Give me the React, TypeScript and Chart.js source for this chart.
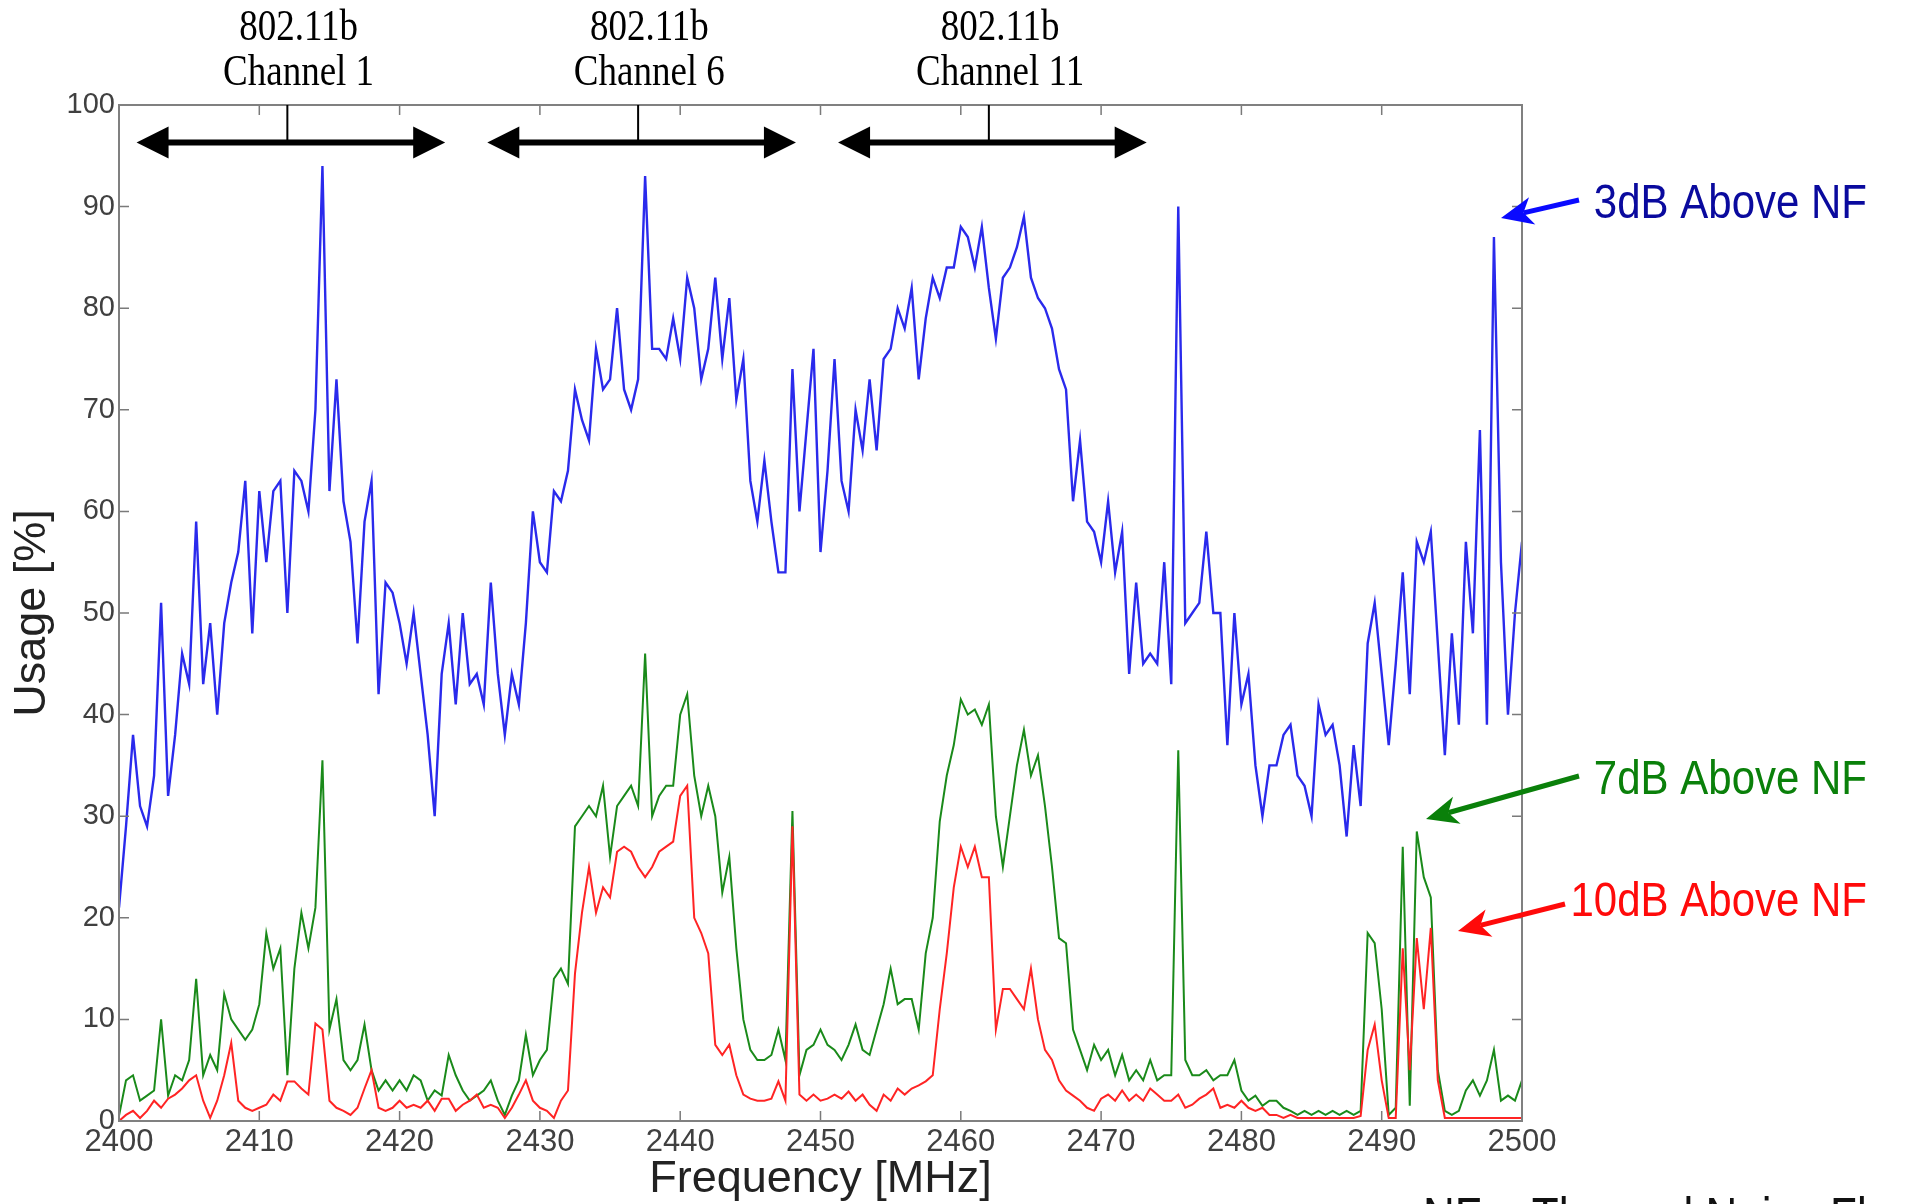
import React, { useEffect, useRef } from 'react';
import { Chart, registerables } from 'chart.js';

Chart.register(...registerables);

// Frequency grid: 2400 MHz .. 2500 MHz, 0.5 MHz per sample
const FREQ_START = 2400;
const FREQ_STEP = 0.5;

// Usage [%] with threshold 3 dB above noise floor (blue)
const USAGE_3DB = [
  21, 29, 38, 31, 29, 34, 51, 32, 38, 46,
  43, 59, 43, 49, 40, 49, 53, 56, 63, 48,
  62, 55, 62, 63, 50, 64, 63, 60, 70, 94,
  62, 73, 61, 57, 47, 59, 63, 42, 53, 52,
  49, 45, 50, 44, 38, 30, 44, 49, 41, 50,
  43, 44, 41, 53, 44, 38, 44, 41, 49, 60,
  55, 54, 62, 61, 64, 72, 69, 67, 76, 72,
  73, 80, 72, 70, 73, 93, 76, 76, 75, 79,
  75, 83, 80, 73, 76, 83, 75, 81, 71, 75,
  63, 59, 65, 59, 54, 54, 74, 60, 68, 76,
  56, 64, 75, 63, 60, 70, 66, 73, 66, 75,
  76, 80, 78, 82, 73, 79, 83, 81, 84, 84,
  88, 87, 84, 88, 82, 77, 83, 84, 86, 89,
  83, 81, 80, 78, 74, 72, 61, 67, 59, 58,
  55, 61, 54, 58, 44, 53, 45, 46, 45, 55,
  43, 90, 49, 50, 51, 58, 50, 50, 37, 50,
  41, 44, 35, 30, 35, 35, 38, 39, 34, 33,
  30, 41, 38, 39, 35, 28, 37, 31, 47, 51,
  44, 37, 45, 54, 42, 57, 55, 58, 47, 36,
  48, 39, 57, 48, 68, 39, 87, 55, 40, 50,
  57,
];

// Usage [%] with threshold 7 dB above noise floor (green)
const USAGE_7DB = [
  0.5, 4, 4.5, 2, 2.5, 3, 10, 2.5, 4.5, 4,
  6, 14, 4.5, 6.5, 5, 12.5, 10, 9, 8, 9,
  11.5, 18.5, 15, 17, 4.5, 15, 20.5, 17, 21, 35.5,
  9, 12, 6, 5, 6, 9.5, 5, 3, 4, 3,
  4, 3, 4.5, 4, 2, 3, 2.5, 6.5, 4.5, 3,
  2, 2.5, 3, 4, 2, 0.6, 2.5, 4, 8.5, 4.5,
  6, 7, 14, 15, 13.5, 29, 30, 31, 30, 33,
  26, 31, 32, 33, 31, 46, 30, 32, 33, 33,
  40, 42, 34, 30, 33, 30, 22.5, 26, 17, 10,
  7, 6, 6, 6.5, 9, 6, 30.5, 4.5, 7, 7.5,
  9, 7.5, 7, 6, 7.5, 9.5, 7, 6.5, 9, 11.5,
  15, 11.5, 12, 12, 9, 16.5, 20, 29.5, 34, 37,
  41.5, 40, 40.5, 39, 41, 30, 25, 30, 35, 38.5,
  34, 36, 31, 25, 18, 17.5, 9, 7, 5, 7.5,
  6, 7, 4.5, 6.5, 4, 5, 4, 6, 4, 4.5,
  4.5, 36.5, 6, 4.5, 4.5, 5, 4, 4.5, 4.5, 6,
  3, 2, 2.5, 1.5, 2, 2, 1.3, 1, 0.6, 1,
  0.6, 1, 0.6, 1, 0.6, 1, 0.6, 1, 18.5, 17.5,
  11, 0.6, 1.3, 27, 1.5, 28.5, 24, 22, 5, 1,
  0.6, 1, 3, 4, 2.5, 4, 7, 2, 2.5, 2,
  4,
];

// Usage [%] with threshold 10 dB above noise floor (red)
const USAGE_10DB = [
  0, 0.6, 1, 0.3, 1, 2, 1.3, 2.2, 2.6, 3.2,
  4, 4.5, 2, 0.3, 2, 4.5, 7.7, 2, 1.3, 1,
  1.3, 1.6, 2.6, 2, 3.9, 3.9, 3.2, 2.6, 9.6, 9,
  2, 1.3, 1, 0.6, 1.3, 3.2, 5, 1.3, 1, 1.3,
  2, 1.3, 1.6, 1.3, 2, 1, 2.2, 2.2, 1, 1.6,
  2, 2.6, 1.3, 1.6, 1.3, 0.3, 1.3, 2.6, 4, 2,
  1.3, 1, 0.3, 2, 3, 14.5, 20.5, 25, 20.5, 23,
  22, 26.5, 27, 26.5, 25, 24, 25, 26.5, 27, 27.5,
  32, 33, 20, 18.5, 16.5, 7.5, 6.5, 7.5, 4.5, 2.6,
  2.2, 2, 2, 2.2, 3.9, 2, 29, 2.6, 2, 2.6,
  2, 2.2, 2.6, 2.2, 2.9, 2, 2.6, 1.6, 1, 2.6,
  2, 3.2, 2.6, 3.2, 3.5, 3.9, 4.5, 11, 16.5, 23,
  27, 25, 27, 24, 24, 9, 13, 13, 12, 11,
  15, 10, 7, 6, 4, 3, 2.5, 2, 1.3, 1,
  2.2, 2.6, 2, 3, 2, 2.6, 2, 3.2, 2.6, 2,
  2, 2.6, 1.3, 1.6, 2.2, 2.6, 3.2, 1.3, 1.6, 1.3,
  2, 1.3, 1, 1.3, 0.6, 0.6, 0.3, 0.6, 0.3, 0.3,
  0.3, 0.3, 0.3, 0.3, 0.3, 0.3, 0.3, 0.5, 7, 9.5,
  4, 0.3, 0.3, 17, 5, 18, 11, 19, 4, 0.3,
  0.3, 0.3, 0.3, 0.3, 0.3, 0.3, 0.3, 0.3, 0.3, 0.3,
  0.3,
];

// 802.11b channel annotations
const CHANNEL_CENTERS = [2412, 2437, 2462];
const CHANNEL_NAMES = ['Channel 1', 'Channel 6', 'Channel 11'];
const CHANNEL_STANDARD = '802.11b';
const CHANNEL_HALF_WIDTH = 11;
const CHANNEL_ARROW_LEVEL = 96.3;

const SERIES_LABELS = ['3dB Above NF', '7dB Above NF', '10dB Above NF'];
const FOOTNOTE = 'NF = Thermal Noise Floor';

const SANS = '"Liberation Sans", Arial, Helvetica, sans-serif';
const SERIF = '"Liberation Serif", "Times New Roman", serif';

function stretchedText(ctx: CanvasRenderingContext2D, text: string, x: number, y: number, sy: number) {
  ctx.save();
  ctx.translate(x, y);
  ctx.scale(1, sy);
  ctx.fillText(text, 0, 0);
  ctx.restore();
}

function barbArrow(
  ctx: CanvasRenderingContext2D,
  x1: number, y1: number, x2: number, y2: number,
  color: string, w: number, headLen: number, headHalf: number,
) {
  const dx = x2 - x1, dy = y2 - y1;
  const len = Math.hypot(dx, dy);
  const ux = dx / len, uy = dy / len;
  const nx = -uy, ny = ux;
  const bx = x2 - ux * headLen, by = y2 - uy * headLen;
  const cx = x2 - ux * headLen * 0.72, cy = y2 - uy * headLen * 0.72;
  ctx.save();
  ctx.strokeStyle = color;
  ctx.fillStyle = color;
  ctx.lineWidth = w;
  ctx.lineCap = 'butt';
  ctx.beginPath();
  ctx.moveTo(x1, y1);
  ctx.lineTo(cx, cy);
  ctx.stroke();
  ctx.beginPath();
  ctx.moveTo(x2, y2);
  ctx.lineTo(bx + nx * headHalf, by + ny * headHalf);
  ctx.lineTo(cx, cy);
  ctx.lineTo(bx - nx * headHalf, by - ny * headHalf);
  ctx.closePath();
  ctx.fill();
  ctx.restore();
}

const annotations = {
  id: 'annotations',
  afterDatasetsDraw(chart: any) {
    const { ctx, chartArea: a, scales } = chart;
    const xs = scales.x;
    const ys = scales.y;
    ctx.save();

    // inward tick marks on all four sides
    ctx.strokeStyle = '#7a7a7a';
    ctx.lineWidth = 1.5;
    const tl = 10;
    ctx.beginPath();
    xs.ticks.forEach((t: any) => {
      const px = xs.getPixelForValue(t.value);
      ctx.moveTo(px, a.bottom);
      ctx.lineTo(px, a.bottom - tl);
      ctx.moveTo(px, a.top);
      ctx.lineTo(px, a.top + tl);
    });
    ys.ticks.forEach((t: any) => {
      const py = ys.getPixelForValue(t.value);
      ctx.moveTo(a.left, py);
      ctx.lineTo(a.left + tl, py);
      ctx.moveTo(a.right, py);
      ctx.lineTo(a.right - tl, py);
    });
    ctx.stroke();

    // axes box
    ctx.lineWidth = 2;
    ctx.strokeStyle = '#808080';
    ctx.strokeRect(a.left, a.top, a.right - a.left, a.bottom - a.top);

    // channel span arrows
    const yA = ys.getPixelForValue(CHANNEL_ARROW_LEVEL);
    const headLen = 32;
    const headHalf = 16;
    CHANNEL_CENTERS.forEach((c, i) => {
      const xl = xs.getPixelForValue(c + 0.25 - CHANNEL_HALF_WIDTH);
      const xr = xs.getPixelForValue(c + 0.25 + CHANNEL_HALF_WIDTH);
      const xc = xs.getPixelForValue(c);
      ctx.strokeStyle = '#000';
      ctx.fillStyle = '#000';
      ctx.lineWidth = 2;
      ctx.beginPath();
      ctx.moveTo(xc, a.top);
      ctx.lineTo(xc, yA);
      ctx.stroke();
      ctx.lineWidth = 6;
      ctx.beginPath();
      ctx.moveTo(xl + headLen - 2, yA);
      ctx.lineTo(xr - headLen + 2, yA);
      ctx.stroke();
      ctx.beginPath();
      ctx.moveTo(xl, yA);
      ctx.lineTo(xl + headLen, yA - headHalf);
      ctx.lineTo(xl + headLen, yA + headHalf);
      ctx.closePath();
      ctx.fill();
      ctx.beginPath();
      ctx.moveTo(xr, yA);
      ctx.lineTo(xr - headLen, yA - headHalf);
      ctx.lineTo(xr - headLen, yA + headHalf);
      ctx.closePath();
      ctx.fill();

      const xt = xs.getPixelForValue(c + 0.8);
      ctx.font = '37px ' + SERIF;
      ctx.textAlign = 'center';
      ctx.textBaseline = 'middle';
      stretchedText(ctx, CHANNEL_STANDARD, xt, 28.5, 1.18);
      stretchedText(ctx, CHANNEL_NAMES[i], xt, 73.5, 1.18);
    });

    // series labels with arrows (right side)
    ctx.font = '42px ' + SANS;
    ctx.textAlign = 'right';
    ctx.textBaseline = 'middle';
    ctx.fillStyle = '#0a0a9e';
    stretchedText(ctx, SERIES_LABELS[0], 1867, 205, 1.16);
    ctx.fillStyle = '#0a800a';
    stretchedText(ctx, SERIES_LABELS[1], 1867, 781, 1.16);
    ctx.fillStyle = '#ff0a0a';
    stretchedText(ctx, SERIES_LABELS[2], 1867, 903, 1.16);

    barbArrow(ctx, 1579, 200, 1501, 218, '#0a0aff', 5, 32, 14);
    barbArrow(ctx, 1579, 776, 1426, 819, '#0a800a', 5, 32, 14);
    barbArrow(ctx, 1565, 904, 1458, 931, '#ff0a0a', 5, 32, 14);

    // footnote (cut off at the bottom edge)
    ctx.font = '44px ' + SANS;
    ctx.textAlign = 'left';
    ctx.textBaseline = 'alphabetic';
    ctx.fillStyle = '#111';
    stretchedText(ctx, FOOTNOTE, 1423, 1234, 1.16);

    ctx.restore();
  },
};

export default function App() {
  const canvasRef = useRef<HTMLCanvasElement>(null);

  useEffect(() => {
    const canvas = canvasRef.current;
    if (!canvas) return;
    const freq = USAGE_3DB.map((_, i) => FREQ_START + i * FREQ_STEP);
    const toPoints = (vals: number[]) => vals.map((v, i) => ({ x: freq[i], y: v }));

    const chart = new Chart(canvas, {
      type: 'line',
      data: {
        datasets: [
          {
            label: SERIES_LABELS[2],
            data: toPoints(USAGE_10DB),
            borderColor: '#ff2424',
            borderWidth: 2,
            pointRadius: 0,
            tension: 0,
            fill: false,
          },
          {
            label: SERIES_LABELS[1],
            data: toPoints(USAGE_7DB),
            borderColor: '#1a8a1a',
            borderWidth: 2,
            pointRadius: 0,
            tension: 0,
            fill: false,
          },
          {
            label: SERIES_LABELS[0],
            data: toPoints(USAGE_3DB),
            borderColor: '#2a2aec',
            borderWidth: 2.4,
            pointRadius: 0,
            tension: 0,
            fill: false,
          },
        ],
      },
      options: {
        responsive: false,
        animation: false,
        devicePixelRatio: 1,
        events: [],
        layout: { padding: { left: 0, top: 105, right: 389, bottom: 0 } },
        plugins: {
          legend: { display: false },
          tooltip: { enabled: false },
        },
        scales: {
          x: {
            type: 'linear',
            min: 2400,
            max: 2500,
            grid: { display: false, drawTicks: false },
            border: { display: false },
            ticks: {
              stepSize: 10,
              autoSkip: false,
              maxRotation: 0,
              padding: 3,
              color: '#404040',
              font: { family: SANS, size: 31 },
              callback: (v: any) => String(v),
            },
            title: {
              display: true,
              text: 'Frequency [MHz]',
              color: '#222',
              font: { family: SANS, size: 45, lineHeight: 1 },
              padding: { top: 0, bottom: 2 },
            },
            afterFit: (s: any) => {
              s.height = 83;
            },
          },
          y: {
            min: 0,
            max: 100,
            grid: { display: false, drawTicks: false },
            border: { display: false },
            ticks: {
              stepSize: 10,
              padding: 4,
              color: '#404040',
              font: { family: SANS, size: 29 },
              callback: (v: any) => String(v),
            },
            title: {
              display: true,
              text: 'Usage [%]',
              color: '#222',
              font: { family: SANS, size: 45, lineHeight: 1 },
              padding: { top: 10, bottom: 0 },
            },
            afterFit: (s: any) => {
              s.width = 119;
            },
          },
        },
      },
      plugins: [annotations],
    } as any);

    return () => chart.destroy();
  }, []);

  return (
    <div style={{ position: 'absolute', left: 0, top: 0, width: 1911, height: 1204, background: '#fff', overflow: 'hidden' }}>
      <canvas ref={canvasRef} width={1911} height={1204} style={{ display: 'block', width: 1911, height: 1204 }} />
    </div>
  );
}
